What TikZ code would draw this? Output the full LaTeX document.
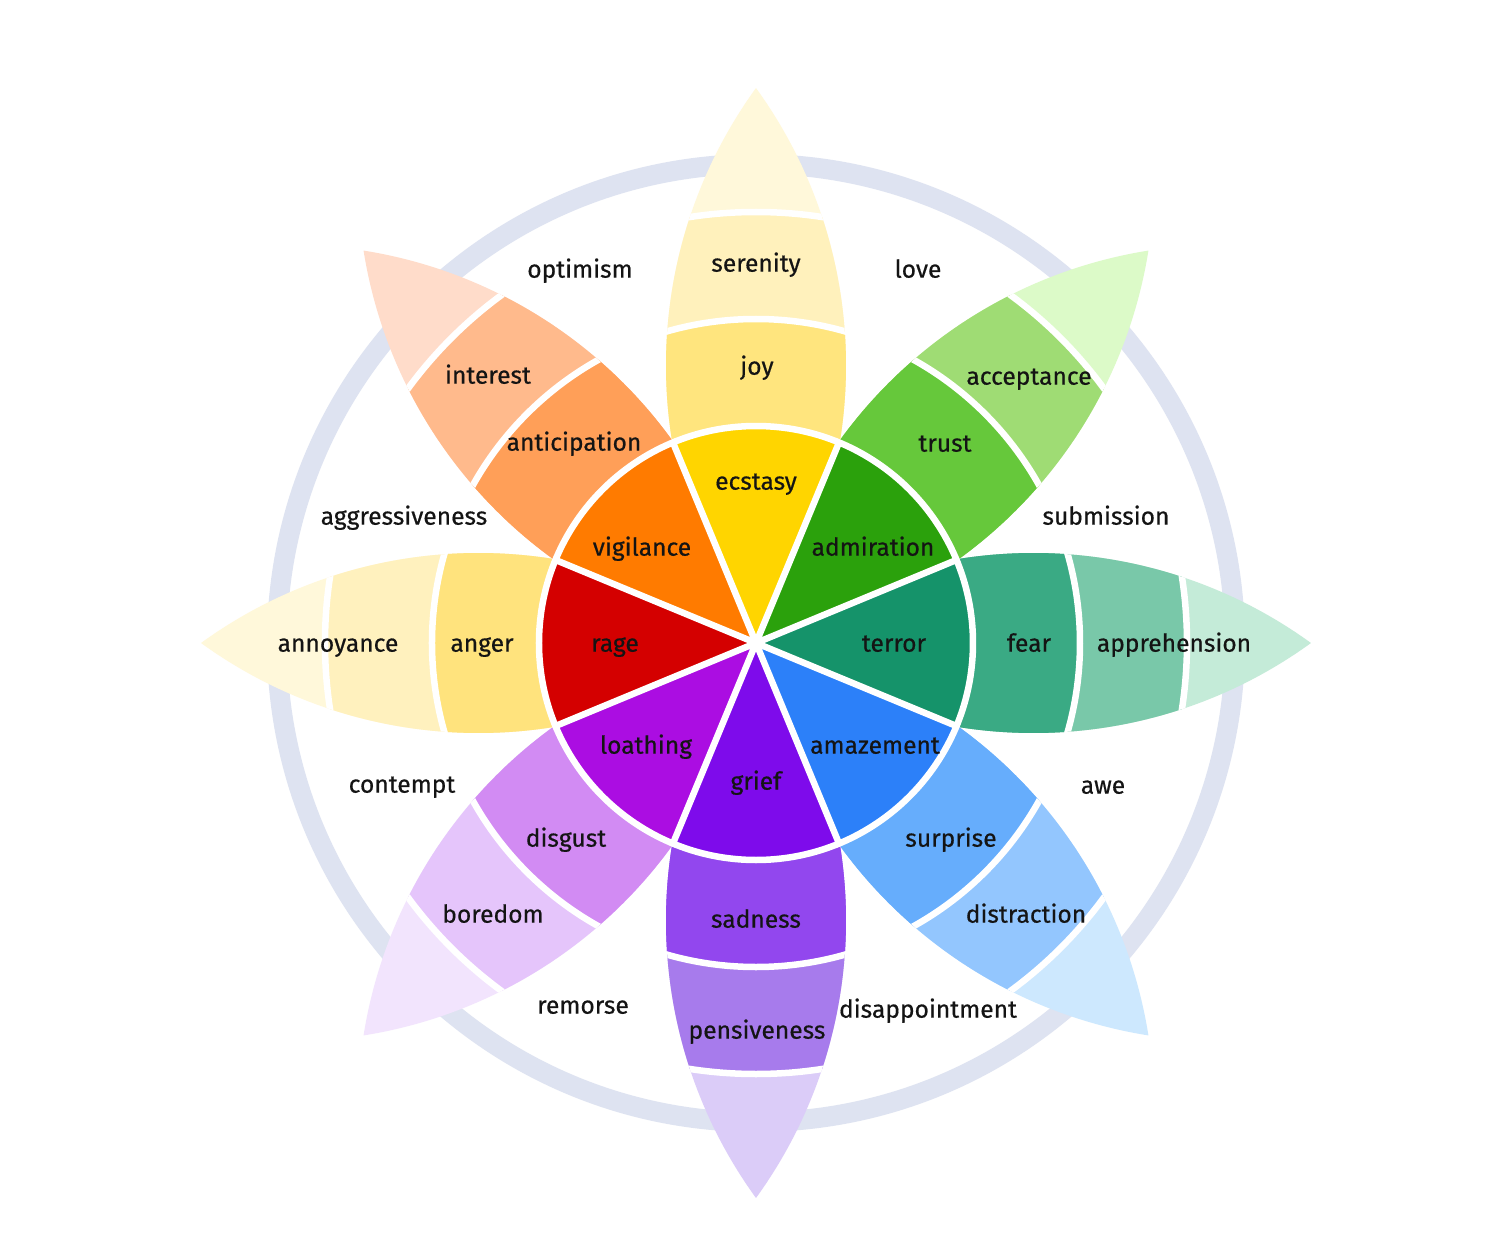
\documentclass[tikz,border=0pt]{standalone}
\usepackage{fontspec}
\setmainfont{Fira Sans}
\newfontfamily\lblfont{Fira Sans}[FakeBold=0.5]
\usetikzlibrary{calc}

\definecolor{ringc}{HTML}{DEE3F1}
\definecolor{inkc}{HTML}{141414}
% inner disk
\definecolor{ecstasyc}{HTML}{FFD500}
\definecolor{admirationc}{HTML}{2BA10C}
\definecolor{terrorc}{HTML}{15936A}
\definecolor{amazementc}{HTML}{2C80F9}
\definecolor{griefc}{HTML}{7E0BEB}
\definecolor{loathingc}{HTML}{AB0DE2}
\definecolor{ragec}{HTML}{D40000}
\definecolor{vigilancec}{HTML}{FF7B00}
% middle band
\definecolor{joyc}{HTML}{FFE57E}
\definecolor{trustc}{HTML}{66C83B}
\definecolor{fearc}{HTML}{3AAA84}
\definecolor{surprisec}{HTML}{66ADFC}
\definecolor{sadnessc}{HTML}{9247EE}
\definecolor{disgustc}{HTML}{D28BF3}
\definecolor{angerc}{HTML}{FFE37D}
\definecolor{anticipationc}{HTML}{FF9F58}
% outer band
\definecolor{serenityc}{HTML}{FFF1BC}
\definecolor{acceptancec}{HTML}{9FDC74}
\definecolor{apprehensionc}{HTML}{79C8A9}
\definecolor{distractionc}{HTML}{93C6FE}
\definecolor{pensivenessc}{HTML}{A77BEC}
\definecolor{boredomc}{HTML}{E5C5FB}
\definecolor{annoyancec}{HTML}{FFF1BE}
\definecolor{interestc}{HTML}{FFBA8C}
% tips
\definecolor{tipN}{HTML}{FFF8DA}
\definecolor{tipNE}{HTML}{DCFAC8}
\definecolor{tipE}{HTML}{C4EBD8}
\definecolor{tipSE}{HTML}{CDE8FE}
\definecolor{tipS}{HTML}{DBCCF8}
\definecolor{tipSW}{HTML}{F2E4FD}
\definecolor{tipW}{HTML}{FFF8DA}
\definecolor{tipNW}{HTML}{FFDCCA}

% petal: angle, middle colour, outer colour, tip colour
\newcommand{\drawpetal}[4]{%
  \begin{scope}[rotate=#1]
    \clip (0,0) arc[start angle=125.94, end angle=54.06, radius=4.728]
          arc[start angle=-54.06, end angle=-125.94, radius=4.728] -- cycle;
    \fill[#4] (0,0) circle (5.6);
    \fill[#3] (0,0) circle (4.31);
    \fill[#2] (0,0) circle (3.24);
    \draw[gap] (0,0) circle (3.24) (0,0) circle (4.31);
  \end{scope}}

% sector of the inner disk: angle, colour
\newcommand{\drawsector}[2]{%
  \fill[#2] (0,0) -- (#1-22.5:2.17) arc[start angle=#1-22.5, end angle=#1+22.5, radius=2.17] -- cycle;}

\begin{document}
\begin{tikzpicture}[gap/.style={draw=white, line width=0.065cm},
  lbl/.style={font=\lblfont\fontsize{7}{8}\selectfont, text=inkc, inner sep=0pt, text height=0.75em, text depth=0.2em}]
\useasboundingbox[fill=white] (-7.56,-5.89) rectangle (7.56,6.43);

% outer ring
\draw[ringc, line width=0.2cm] (0,0) circle (4.79);

% petals
\drawpetal{90}{joyc}{serenityc}{tipN}
\drawpetal{45}{trustc}{acceptancec}{tipNE}
\drawpetal{0}{fearc}{apprehensionc}{tipE}
\drawpetal{-45}{surprisec}{distractionc}{tipSE}
\drawpetal{-90}{sadnessc}{pensivenessc}{tipS}
\drawpetal{-135}{disgustc}{boredomc}{tipSW}
\drawpetal{180}{angerc}{annoyancec}{tipW}
\drawpetal{135}{anticipationc}{interestc}{tipNW}

% inner disk
\drawsector{90}{ecstasyc}
\drawsector{45}{admirationc}
\drawsector{0}{terrorc}
\drawsector{-45}{amazementc}
\drawsector{-90}{griefc}
\drawsector{-135}{loathingc}
\drawsector{180}{ragec}
\drawsector{135}{vigilancec}
\draw[gap] (0,0) circle (2.17);
\draw[gap] (22.5:2.2) -- (202.5:2.2) (67.5:2.2) -- (247.5:2.2) (112.5:2.2) -- (292.5:2.2) (157.5:2.2) -- (337.5:2.2);

% primary emotions
\node[lbl] (ecstasy) at (0,1.63) {ecstasy};
\node[lbl] (admiration) at (1.17,0.97) {admiration};
\node[lbl] (terror) at (1.38,0.01) {terror};
\node[lbl] (amazement) at (1.19,-1.01) {amazement};
\node[lbl] (grief) at (0,-1.37) {grief};
\node[lbl] (loathing) at (-1.10,-1.01) {loathing};
\node[lbl] (rage) at (-1.41,0.01) {rage};
\node[lbl] (vigilance) at (-1.14,0.97) {vigilance};

\node[lbl] (joy) at (0.01,2.78) {joy};
\node[lbl] (trust) at (1.89,2.01) {trust};
\node[lbl] (fear) at (2.73,0.01) {fear};
\node[lbl] (surprise) at (1.95,-1.94) {surprise};
\node[lbl] (sadness) at (0,-2.75) {sadness};
\node[lbl] (disgust) at (-1.90,-1.94) {disgust};
\node[lbl] (anger) at (-2.74,0.01) {anger};
\node[lbl] (anticipation) at (-1.82,2.02) {anticipation};

\node[lbl] (serenity) at (0,3.81) {serenity};
\node[lbl] (acceptance) at (2.73,2.68) {acceptance};
\node[lbl] (apprehension) at (4.18,0.01) {apprehension};
\node[lbl] (distraction) at (2.70,-2.70) {distraction};
\node[lbl] (pensiveness) at (0.01,-3.86) {pensiveness};
\node[lbl] (boredom) at (-2.63,-2.70) {boredom};
\node[lbl] (annoyance) at (-4.18,0.01) {annoyance};
\node[lbl] (interest) at (-2.68,2.69) {interest};

% dyads
\node[lbl] (optimism) at (-1.76,3.75) {optimism};
\node[lbl] (love) at (1.62,3.75) {love};
\node[lbl] (submission) at (3.50,1.28) {submission};
\node[lbl] (awe) at (3.47,-1.41) {awe};
\node[lbl] (disappointment) at (1.72,-3.65) {disappointment};
\node[lbl] (remorse) at (-1.73,-3.61) {remorse};
\node[lbl] (contempt) at (-3.54,-1.40) {contempt};
\node[lbl] (aggressiveness) at (-3.52,1.28) {aggressiveness};
\end{tikzpicture}
\end{document}
